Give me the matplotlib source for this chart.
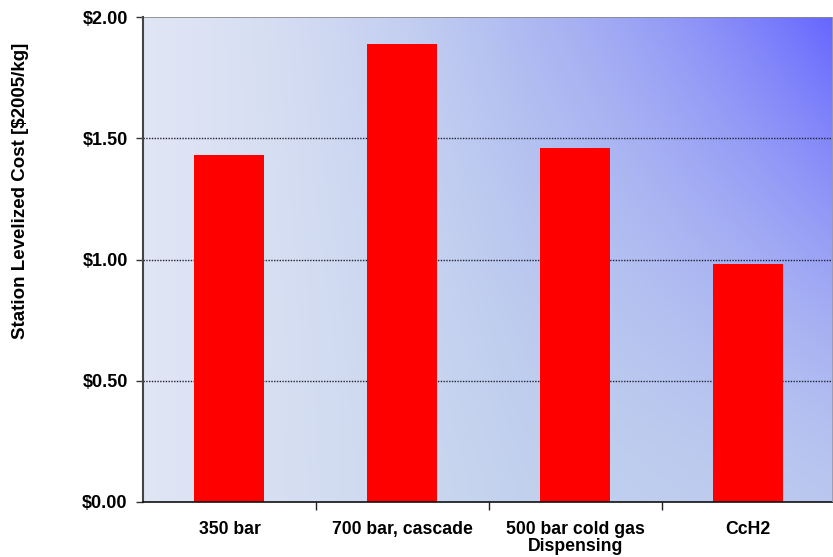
import numpy as np
import matplotlib
matplotlib.use("Agg")
import matplotlib.pyplot as plt

plt.rcParams['font.family'] = ['Liberation Sans', 'DejaVu Sans']

categories = ["350 bar", "700 bar, cascade", "500 bar cold gas\nDispensing", "CcH2"]
costs = [1.43, 1.89, 1.46, 0.98]
yticks = [0.0, 0.5, 1.0, 1.5, 2.0]
ytick_labels = ["$0.00", "$0.50", "$1.00", "$1.50", "$2.00"]

fig = plt.figure(figsize=(8.33, 5.57), dpi=100)
ax = fig.add_axes([143 / 833, 55 / 557, 690 / 833, 485 / 557])

x = np.arange(len(categories))
xlim = (-0.5, 3.49)
ylim = (0, 2.0)

# Gradient fill: pale blue-grey fading to saturated blue toward the top right
nx, ny = 400, 300
gx = np.linspace(0, 1, nx)[None, :]
gy = np.linspace(1, 0, ny)[:, None]
t = np.clip(gx ** 2.4 * (0.12 + 0.88 * gy ** 1.4), 0, 1)
light_left = np.array([0.88, 0.90, 0.96])
light_mid = np.array([0.77, 0.83, 0.93])
s = np.clip(gx * 1.8, 0, 1)[..., None]
light = light_left * (1 - s) + light_mid * s
blue = np.array([0.40, 0.40, 1.0])
img = light * (1 - t[..., None]) + blue * t[..., None]
ax.imshow(img, extent=(xlim[0], xlim[1], ylim[0], ylim[1]), aspect='auto',
          origin='upper', zorder=0, interpolation='bilinear')

# Dotted gridlines
for yv in yticks[1:-1]:
    ax.axhline(yv, color='#222233', linestyle=(0, (1, 1)), linewidth=1.0, zorder=1)
ax.axhline(2.0, color='#888888', linestyle='-', linewidth=1.2, zorder=1)

ax.bar(x, costs, width=0.405, color='#ff0000', zorder=2)

ax.set_xlim(*xlim)
ax.set_ylim(*ylim)

ax.set_yticks(yticks)
ax.set_yticklabels(ytick_labels, fontsize=13, fontweight='bold')
ax.tick_params(axis='y', direction='out', length=5, width=1, pad=6, color='#333333')

ax.set_xticks(x)
ax.set_xticklabels(categories, fontsize=12.7, fontweight='bold', linespacing=1.0)
ax.tick_params(axis='x', which='major', length=0, pad=14)
ax.set_xticks([0.5, 1.5, 2.5], minor=True)
ax.tick_params(axis='x', which='minor', direction='out', length=6, width=1, color='#222222')

for side in ['top', 'right']:
    ax.spines[side].set_visible(False)
ax.spines['left'].set_color('#444444')
ax.spines['left'].set_linewidth(1.5)
ax.spines['bottom'].set_color('#111111')
ax.spines['bottom'].set_linewidth(1.2)

# Soft edge on the right side of the plot area
ax.axvline(xlim[1], color='#9a9aaa', linewidth=2.0, zorder=3)

fig.text(21 / 833, 1 - 191 / 557, "Station Levelized Cost [$2005/kg]", rotation=90,
         fontsize=13.5, fontweight='bold', ha='center', va='center')

fig.savefig("out.png", dpi=100)
